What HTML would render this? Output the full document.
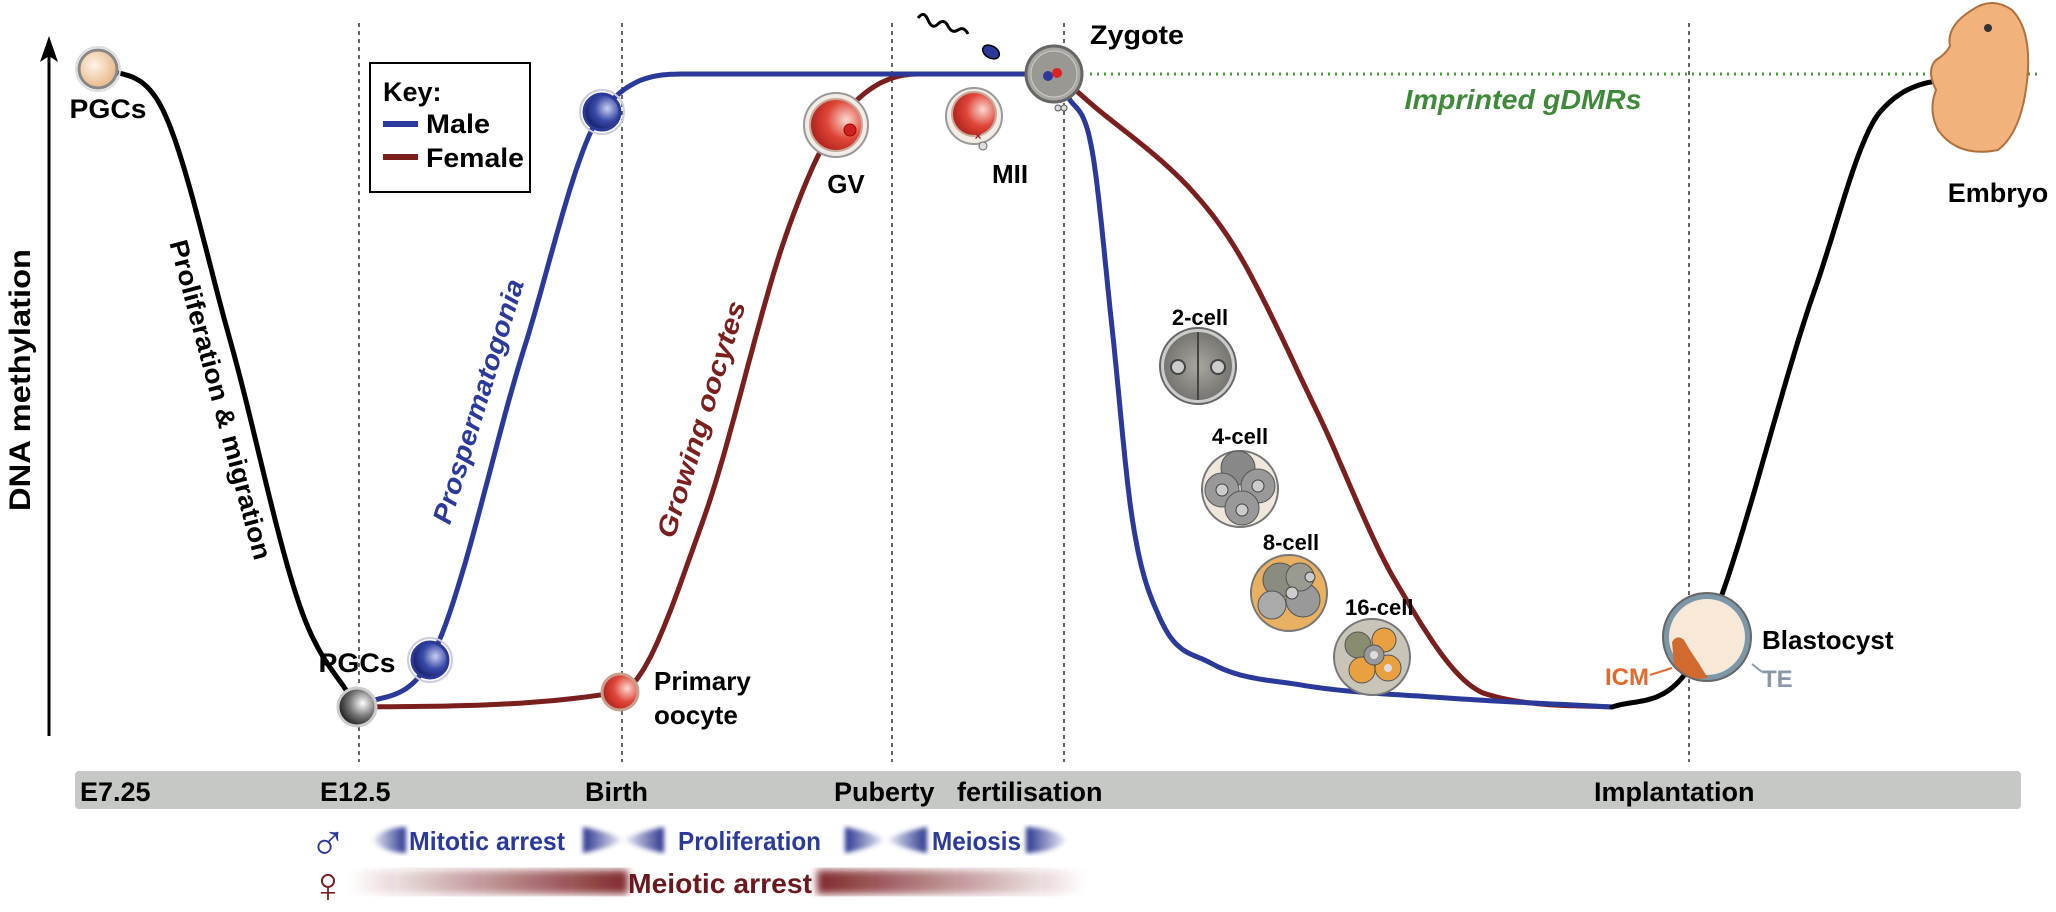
<!DOCTYPE html>
<html><head><meta charset="utf-8"><style>
html,body{margin:0;padding:0;background:#fff;}
svg{display:block;font-family:"Liberation Sans",Arial,sans-serif;font-weight:bold;}
</style></head><body>
<svg id="fig" width="2056" height="912" viewBox="0 0 2056 912" xmlns="http://www.w3.org/2000/svg">
<defs>
<radialGradient id="gPGC" cx="40%" cy="40%" r="60%"><stop offset="0" stop-color="#fff4e8"/><stop offset="1" stop-color="#e8b88a"/></radialGradient>
<radialGradient id="gGrey" cx="65%" cy="40%" r="70%"><stop offset="0" stop-color="#fff"/><stop offset="0.5" stop-color="#777"/><stop offset="1" stop-color="#111"/></radialGradient>
<radialGradient id="gBlue" cx="65%" cy="40%" r="70%"><stop offset="0" stop-color="#c9cff0"/><stop offset="0.5" stop-color="#3a4aa8"/><stop offset="1" stop-color="#101a60"/></radialGradient>
<radialGradient id="gRed" cx="70%" cy="40%" r="75%"><stop offset="0" stop-color="#fbd8d0"/><stop offset="0.5" stop-color="#e0463a"/><stop offset="1" stop-color="#a81e18"/></radialGradient>
<radialGradient id="gCell" cx="50%" cy="50%" r="60%"><stop offset="0" stop-color="#a8a6a0"/><stop offset="1" stop-color="#6e6c68"/></radialGradient>
<linearGradient id="redL" x1="0" x2="1"><stop offset="0" stop-color="#7a1e22" stop-opacity="0"/><stop offset="1" stop-color="#7a1e22" stop-opacity="0.95"/></linearGradient>
<linearGradient id="redR" x1="0" x2="1"><stop offset="0" stop-color="#7a1e22" stop-opacity="0.95"/><stop offset="1" stop-color="#7a1e22" stop-opacity="0"/></linearGradient>
<linearGradient id="bluL" x1="0" x2="1"><stop offset="0" stop-color="#2a3590" stop-opacity="0.05"/><stop offset="1" stop-color="#2a3590" stop-opacity="1"/></linearGradient>
<linearGradient id="bluR" x1="0" x2="1"><stop offset="0" stop-color="#2a3590" stop-opacity="1"/><stop offset="1" stop-color="#2a3590" stop-opacity="0.05"/></linearGradient>
<filter id="blur"><feGaussianBlur stdDeviation="4"/></filter>
<filter id="blur2"><feGaussianBlur stdDeviation="2.5"/></filter>
</defs>

<line x1="49" y1="736" x2="49" y2="50" stroke="#000" stroke-width="3"/>
<polygon points="49,36 40,62 49,56 58,62" fill="#000"/>
<text transform="translate(30,380) rotate(-90)" text-anchor="middle" font-size="30" textLength="262" lengthAdjust="spacingAndGlyphs">DNA methylation</text>

<g stroke="#333" stroke-width="1.5" stroke-dasharray="4,4">
<line x1="359" y1="23" x2="359" y2="762"/><line x1="622" y1="23" x2="622" y2="762"/>
<line x1="892" y1="23" x2="892" y2="762"/><line x1="1064" y1="23" x2="1064" y2="762"/>
<line x1="1689" y1="23" x2="1689" y2="762"/>
</g>

<line x1="1090" y1="74" x2="2040" y2="74" stroke="#4a9a3a" stroke-width="3" stroke-dasharray="2,5"/>
<text x="1523" y="109" text-anchor="middle" font-size="28" font-style="italic" fill="#3e8a3a" textLength="237" lengthAdjust="spacingAndGlyphs">Imprinted gDMRs</text>

<g id="curves"></g>

<g>
<rect x="370" y="63" width="160" height="129" fill="#fff" stroke="#000" stroke-width="2"/>
<text x="383" y="101" font-size="27">Key:</text>
<line x1="383" y1="124" x2="418" y2="124" stroke="#2b3a9a" stroke-width="6"/>
<text x="426" y="133" font-size="27" textLength="64" lengthAdjust="spacingAndGlyphs">Male</text>
<line x1="383" y1="157" x2="418" y2="157" stroke="#7a1e1e" stroke-width="6"/>
<text x="426" y="167" font-size="27" textLength="98" lengthAdjust="spacingAndGlyphs">Female</text>
</g>

<text transform="translate(212,402) rotate(75)" text-anchor="middle" font-size="26" textLength="330" lengthAdjust="spacingAndGlyphs">Proliferation &amp; migration</text>
<text transform="translate(487,404) rotate(-73)" text-anchor="middle" font-size="27" font-style="italic" fill="#2b3a9a" textLength="254" lengthAdjust="spacingAndGlyphs">Prospermatogonia</text>
<text transform="translate(710,422) rotate(-73)" text-anchor="middle" font-size="27" font-style="italic" fill="#7a1e1e" textLength="246" lengthAdjust="spacingAndGlyphs">Growing oocytes</text>

<g><circle cx="98" cy="69" r="19" fill="url(#gPGC)" stroke="#888" stroke-width="3"/><circle cx="98" cy="69" r="22" fill="none" stroke="#ddd" stroke-width="2"/></g>
<text x="108" y="118" text-anchor="middle" font-size="27" textLength="77" lengthAdjust="spacingAndGlyphs">PGCs</text>
<g><circle cx="357" cy="707" r="19" fill="url(#gGrey)" stroke="#ccc" stroke-width="3"/></g>
<text x="357" y="672" text-anchor="middle" font-size="27" textLength="77" lengthAdjust="spacingAndGlyphs">PGCs</text>
<g><circle cx="430" cy="660" r="18" fill="url(#gBlue)" stroke="#2b3a9a" stroke-width="3"/><circle cx="430" cy="660" r="22" fill="none" stroke="#ccd" stroke-width="2"/></g>
<g><circle cx="602" cy="112" r="18" fill="url(#gBlue)" stroke="#2b3a9a" stroke-width="3"/><circle cx="602" cy="112" r="22" fill="none" stroke="#ccd" stroke-width="2"/></g>
<g><circle cx="620" cy="692" r="18" fill="url(#gRed)" stroke="#c8a090" stroke-width="3"/></g>
<text font-size="26"><tspan x="654" y="690">Primary</tspan><tspan x="654" y="724">oocyte</tspan></text>
<g><circle cx="836" cy="125" r="32" fill="#f3ece6" stroke="#999" stroke-width="2"/><circle cx="836" cy="125" r="26" fill="url(#gRed)" stroke="#c8a898" stroke-width="2"/><circle cx="850" cy="130" r="6" fill="#c22" stroke="#a00"/></g>
<text x="846" y="193" text-anchor="middle" font-size="26">GV</text>
<g><circle cx="974" cy="116" r="28" fill="#f3ece6" stroke="#999" stroke-width="2"/><circle cx="974" cy="114" r="22" fill="url(#gRed)" stroke="#c8a898" stroke-width="2"/><text x="978" y="140" font-size="12" fill="#a22" text-anchor="middle">×</text><circle cx="983" cy="146" r="4" fill="#ddd" stroke="#666"/></g>
<text x="1010" y="183" text-anchor="middle" font-size="26">MII</text>
<g><path d="M918,18 q6,-8 10,2 t10,4 t10,2 t10,4 t10,4" fill="none" stroke="#000" stroke-width="3"/><ellipse cx="991" cy="52" rx="9" ry="6" transform="rotate(30 991 52)" fill="#2b3a9a" stroke="#000" stroke-width="1.5"/></g>
<g><circle cx="1054" cy="74" r="28" fill="#a8a6a0" stroke="#666" stroke-width="3"/><circle cx="1054" cy="74" r="23" fill="#9a9892" stroke="#ccc"/><circle cx="1048" cy="76" r="5" fill="#2b3a9a"/><circle cx="1057" cy="73" r="5" fill="#d22"/><circle cx="1058" cy="108" r="3" fill="#ddd" stroke="#555"/><circle cx="1064" cy="108" r="3" fill="#ddd" stroke="#555"/></g>
<text x="1090" y="44" font-size="27" textLength="94" lengthAdjust="spacingAndGlyphs">Zygote</text>

<g><circle cx="1198" cy="366" r="38" fill="#ccc" stroke="#666" stroke-width="2"/><circle cx="1198" cy="366" r="34" fill="url(#gCell)"/><line x1="1198" y1="332" x2="1198" y2="400" stroke="#444" stroke-width="2"/><circle cx="1178" cy="367" r="7" fill="#ccc" stroke="#444" stroke-width="2"/><circle cx="1218" cy="367" r="7" fill="#ccc" stroke="#444" stroke-width="2"/></g>
<text x="1200" y="325" text-anchor="middle" font-size="22">2-cell</text>
<g><circle cx="1240" cy="489" r="38" fill="#efe6dc" stroke="#777" stroke-width="2"/><circle cx="1238" cy="468" r="17" fill="#888" stroke="#555"/><circle cx="1222" cy="490" r="17" fill="#999" stroke="#555"/><circle cx="1258" cy="486" r="17" fill="#999" stroke="#555"/><circle cx="1242" cy="508" r="17" fill="#999" stroke="#555"/><circle cx="1222" cy="490" r="6" fill="#ccc" stroke="#444"/><circle cx="1258" cy="486" r="6" fill="#ccc" stroke="#444"/><circle cx="1242" cy="510" r="6" fill="#ccc" stroke="#444"/></g>
<text x="1240" y="444" text-anchor="middle" font-size="22">4-cell</text>
<g><circle cx="1289" cy="593" r="38" fill="#e8b060" stroke="#777" stroke-width="2"/><circle cx="1280" cy="580" r="17" fill="#8a8c80" stroke="#555"/><circle cx="1303" cy="600" r="17" fill="#999" stroke="#555"/><circle cx="1272" cy="605" r="14" fill="#aaa" stroke="#555"/><circle cx="1300" cy="577" r="14" fill="#9a9a90" stroke="#555"/><circle cx="1292" cy="593" r="6" fill="#ccc" stroke="#444"/><circle cx="1310" cy="577" r="5" fill="#ccc" stroke="#444"/></g>
<text x="1291" y="550" text-anchor="middle" font-size="22">8-cell</text>
<g><circle cx="1372" cy="657" r="38" fill="#c8c4b8" stroke="#777" stroke-width="2"/><circle cx="1358" cy="645" r="13" fill="#8a8c70" stroke="#555"/><circle cx="1384" cy="640" r="12" fill="#e8a040" stroke="#555"/><circle cx="1362" cy="670" r="13" fill="#e8a040" stroke="#555"/><circle cx="1388" cy="668" r="13" fill="#e8a040" stroke="#555"/><circle cx="1374" cy="655" r="10" fill="#999" stroke="#555"/><circle cx="1374" cy="655" r="4" fill="#ddd"/><circle cx="1388" cy="668" r="4" fill="#ddd"/></g>
<text x="1345" y="615" font-size="22">16-cell</text>

<g><circle cx="1707" cy="637" r="44" fill="#7c97a8" stroke="#666" stroke-width="2"/><circle cx="1707" cy="637" r="38" fill="#f8e8d8"/><path d="M1672,642 q5,-8 12,-2 q8,14 14,22 q6,10 10,16 q-20,4 -34,-14 z" fill="#d26a30"/></g>
<text x="1762" y="649" font-size="26">Blastocyst</text>
<text x="1605" y="685" font-size="24" fill="#e06a30">ICM</text>
<line x1="1650" y1="675" x2="1672" y2="668" stroke="#e06a30" stroke-width="2"/>
<text x="1762" y="687" font-size="24" fill="#8a98a8">TE</text>
<line x1="1752" y1="664" x2="1762" y2="672" stroke="#8a98a8" stroke-width="2"/>

<g><path d="M1972,10 q20,-14 40,0 q18,18 16,60 q-4,60 -30,80 q-40,8 -60,-20 q-10,-20 -2,-40 q-10,-20 0,-30 q10,-6 14,-14 q-4,-20 22,-36 z" fill="#f2b27c" stroke="#b0703c" stroke-width="2"/><circle cx="1988" cy="28" r="4" fill="#333"/></g>
<text x="1998" y="202" text-anchor="middle" font-size="27">Embryo</text>

<rect x="75" y="771" width="1946" height="38" rx="4" fill="#c6c8c5"/>
<g font-size="27">
<text x="80" y="801">E7.25</text><text x="320" y="801">E12.5</text><text x="585" y="801">Birth</text>
<text x="834" y="801">Puberty</text><text x="957" y="801">fertilisation</text><text x="1594" y="801">Implantation</text>
</g>

<text x="328" y="858" text-anchor="middle" font-size="50" fill="#2b3a9a">♂</text>
<g filter="url(#blur2)">
<path d="M372,840 q10,-12 34,-13 v26 q-24,-1 -34,-13z" fill="url(#bluL)"/>
<path d="M583,827 q30,6 40,13 q-10,7 -40,13z" fill="url(#bluR)"/><path d="M664,827 q-30,6 -40,13 q10,7 40,13z" fill="url(#bluL)"/>
<path d="M845,827 q30,6 40,13 q-10,7 -40,13z" fill="url(#bluR)"/><path d="M927,827 q-30,6 -40,13 q10,7 40,13z" fill="url(#bluL)"/>
<path d="M1026,827 q30,1 41,13 q-11,12 -41,13z" fill="url(#bluR)"/>
</g>
<g font-size="26" fill="#2b3a9a">
<text x="409" y="850" textLength="156" lengthAdjust="spacingAndGlyphs">Mitotic arrest</text>
<text x="678" y="850" textLength="143" lengthAdjust="spacingAndGlyphs">Proliferation</text>
<text x="932" y="850" textLength="89" lengthAdjust="spacingAndGlyphs">Meiosis</text>
</g>
<text x="328" y="902" text-anchor="middle" font-size="50" fill="#7a1e1e">♀</text>
<g filter="url(#blur)">
<rect x="350" y="870" width="278" height="24" fill="url(#redL)"/>
<rect x="817" y="870" width="268" height="24" fill="url(#redR)"/>
</g>
<text x="628" y="893" font-size="28" fill="#6a1a1e" textLength="184" lengthAdjust="spacingAndGlyphs">Meiotic arrest</text>
</svg>
<script>
// data: time index (arbitrary units) and relative methylation level (0..1)
var blackEarlyT = [2.9, 5.85, 9.5, 13.1, 15.85];
var blackEarlyM = [1.01, 0.96, 0.58, 0.15, 0];
var maleT = [15.85, 19.5, 24.2, 28.1, 32.4, 50.7];
var maleM = [0, 0.074, 0.566, 0.94, 1, 1];
var femaleT = [15.85, 29, 33.1, 37.35, 39.8, 43.9, 50.7];
var femaleM = [0, 0.024, 0.29, 0.75, 0.92, 1, 1];
var maleDownT = [51.3, 52.6, 53.6, 54.6, 56, 58.5, 63, 70, 78.6];
var maleDownM = [0.97, 0.88, 0.6, 0.3, 0.14, 0.07, 0.035, 0.015, 0];
var femaleDownT = [51.6, 59.25, 63.8, 67.75, 72.35, 78.6];
var femaleDownM = [0.98, 0.75, 0.47, 0.2, 0.02, 0];
var blackLateT = [78.6, 82.2, 88.75, 92, 96.75];
var blackLateM = [0, 0.05, 0.66, 0.94, 1];

function xS(t){ return 40 + t*20; }
function yS(m){ return 707 - m*633; }
function mono(xs, ys){
  var n=xs.length, d=[], m=[], i;
  for(i=0;i<n-1;i++) d.push((ys[i+1]-ys[i])/(xs[i+1]-xs[i]));
  m[0]=d[0]; m[n-1]=d[n-2];
  for(i=1;i<n-1;i++){ m[i]=(d[i-1]*d[i]<=0)?0:(d[i-1]+d[i])/2; }
  for(i=0;i<n-1;i++){
    if(d[i]===0){m[i]=0;m[i+1]=0;continue;}
    var a=m[i]/d[i], b=m[i+1]/d[i], s=a*a+b*b;
    if(s>9){var tau=3/Math.sqrt(s); m[i]=tau*a*d[i]; m[i+1]=tau*b*d[i];}
  }
  var p='';
  for(i=0;i<n-1;i++){
    var h=xs[i+1]-xs[i];
    for(var k=0;k<=24;k++){
      var u=k/24, h00=2*u*u*u-3*u*u+1, h10=u*u*u-2*u*u+u, h01=-2*u*u*u+3*u*u, h11=u*u*u-u*u;
      var y=h00*ys[i]+h10*h*m[i]+h01*ys[i+1]+h11*h*m[i+1];
      var x=xs[i]+u*h;
      p+=(p?'L':'M')+xS(x).toFixed(1)+','+yS(y).toFixed(1);
    }
  }
  return p;
}
var g=document.getElementById('curves');
function draw(ts, ms, col, name){
  var el=document.createElementNS('http://www.w3.org/2000/svg','path');
  el.setAttribute('d', mono(ts, ms));
  el.setAttribute('fill','none');
  el.setAttribute('stroke',col);
  el.setAttribute('stroke-width','5');
  el.setAttribute('stroke-linecap','round');
  
  
  g.appendChild(el);
}
draw(blackEarlyT, blackEarlyM, '#000', 'pgc-demethylation-curve');
draw(femaleT, femaleM, '#7a1e1e', 'female-germline-curve');
draw(maleT, maleM, '#2b3a9a', 'male-germline-curve');
draw(femaleDownT, femaleDownM, '#7a1e1e', 'maternal-preimplantation-curve');
draw(maleDownT, maleDownM, '#2b3a9a', 'paternal-preimplantation-curve');
draw(blackLateT, blackLateM, '#000', 'embryo-remethylation-curve');
</script>
</body></html>
